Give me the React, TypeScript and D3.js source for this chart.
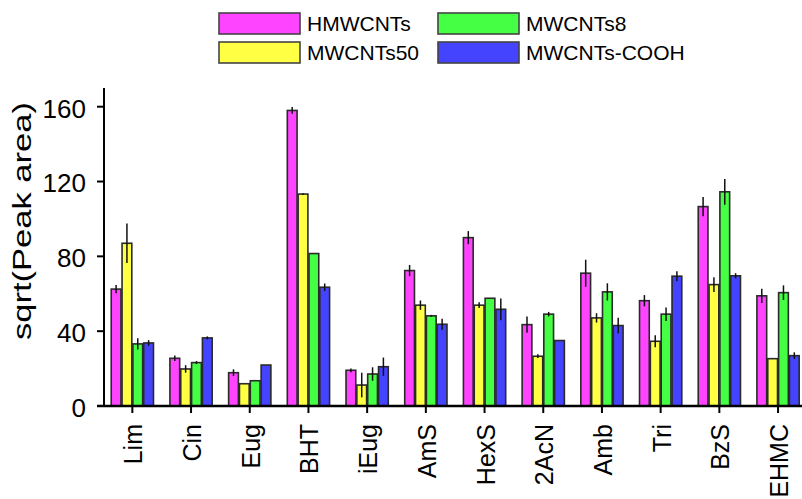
import React from "react";
import * as d3 from "d3";

const categories = ["Lim", "Cin", "Eug", "BHT", "iEug", "AmS", "HexS", "2AcN", "Amb", "Tri", "BzS", "EHMC"];
const seriesNames = ["HMWCNTs", "MWCNTs50", "MWCNTs8", "MWCNTs-COOH"];
const seriesColors = ["#ff44ff", "#ffff44", "#44ff44", "#4444ff"];

const hmwcnts = [62.5, 25.5, 17.8, 158, 19.1, 72.4, 90, 43.5, 71, 56.3, 106.6, 58.9];
const hmwcntsErr = [2.2, 1.5, 1.8, 1.8, 1.0, 3.0, 3.5, 4.3, 7.2, 3.0, 5.1, 3.8];
const mwcnts50 = [87, 19.8, 11.9, 113.3, 11.2, 53.9, 53.9, 26.6, 47.1, 34.6, 64.9, 25.3];
const mwcnts50Err = [10.5, 2.0, 0, 0.5, 6.6, 2.5, 1.5, 1.0, 2.5, 3.2, 3.9, 0];
const mwcnts8 = [33.2, 23.2, 13.5, 81.5, 17.1, 48.2, 57.6, 49.1, 61, 49.1, 114.5, 60.6];
const mwcnts8Err = [3.0, 0.8, 0, 0, 3.6, 0.5, 0, 1.2, 4.6, 3.6, 6.9, 3.9];
const cooh = [33.7, 36.4, 21.9, 63.5, 21.0, 43.7, 51.7, 35, 43, 69.4, 69.6, 26.9];
const coohErr = [1.5, 0.8, 0, 2.0, 4.9, 3.0, 5.8, 0, 4.2, 2.7, 1.4, 1.8];

const yTicks = [0, 40, 80, 120, 160];

const values = [hmwcnts, mwcnts50, mwcnts8, cooh];
const errors = [hmwcntsErr, mwcnts50Err, mwcnts8Err, coohErr];

const FONT = "'Liberation Sans', Arial, Helvetica, sans-serif";

export default function App() {
  const W = 802;
  const H = 499;
  const axisX = 104;
  const axisY = 406;

  const y = d3.scaleLinear().domain([0, 170]).range([axisY, 88]);
  const x = d3
    .scaleBand<string>()
    .domain(categories)
    .range([103, 103 + 12 * 58.7])
    .paddingInner(0.28)
    .paddingOuter(0.14);
  const xi = d3
    .scaleBand<string>()
    .domain(seriesNames)
    .range([0, x.bandwidth()])
    .paddingInner(0.1);

  const legendItems = [
    { name: seriesNames[0], color: seriesColors[0], bx: 219, by: 13 },
    { name: seriesNames[2], color: seriesColors[2], bx: 438, by: 13 },
    { name: seriesNames[1], color: seriesColors[1], bx: 219, by: 42 },
    { name: seriesNames[3], color: seriesColors[3], bx: 438, by: 42 },
  ];

  return (
    <svg
      width={W}
      height={H}
      style={{ position: "absolute", left: 0, top: 0, background: "#fff" }}
      fontFamily={FONT}
    >
      <rect x={0} y={0} width={W} height={H} fill="#fff" />
      {/* legend */}
      {legendItems.map((it) => (
        <g key={it.name}>
          <rect x={it.bx} y={it.by} width={81} height={21} fill={it.color} stroke="#444" strokeWidth={1.6} />
          <text x={it.bx + 88} y={it.by + 18} fontSize={21} fill="#000">
            {it.name}
          </text>
        </g>
      ))}

      {/* bars */}
      {categories.map((c, ci) => (
        <g key={c} transform={`translate(${x(c)},0)`}>
          {seriesNames.map((s, si) => {
            const v = values[si][ci];
            const e = errors[si][ci];
            const bx = xi(s)!;
            const bw = xi.bandwidth();
            return (
              <g key={s}>
                <rect
                  x={bx}
                  y={y(v)}
                  width={bw}
                  height={axisY - y(v)}
                  fill={seriesColors[si]}
                  stroke="#2a2a2a"
                  strokeWidth={1.6}
                />
                {e > 0 && (
                  <line
                    x1={bx + bw / 2}
                    x2={bx + bw / 2}
                    y1={y(v - e)}
                    y2={y(v + e)}
                    stroke="#111"
                    strokeWidth={1.5}
                  />
                )}
              </g>
            );
          })}
        </g>
      ))}

      {/* y axis */}
      <line x1={axisX} x2={axisX} y1={88} y2={axisY} stroke="#000" strokeWidth={2} />
      {yTicks.map((t) => (
        <g key={t}>
          <line x1={axisX - 7} x2={axisX} y1={y(t)} y2={y(t)} stroke="#000" strokeWidth={2} />
          <text x={86} y={y(t)} dy="0.42em" textAnchor="end" fontSize={26} fill="#000">
            {t}
          </text>
        </g>
      ))}
      <text
        transform={`translate(31,221) rotate(-90)`}
        textAnchor="middle"
        fontSize={25}
        fill="#000"
        textLength={238}
        lengthAdjust="spacingAndGlyphs"
      >
        sqrt(Peak area)
      </text>

      {/* x axis */}
      <line x1={axisX - 7} x2={W} y1={axisY} y2={axisY} stroke="#000" strokeWidth={2.5} />
      {categories.map((c) => {
        const cx = x(c)! + x.bandwidth() / 2;
        return (
          <g key={c}>
            <line x1={cx} x2={cx} y1={axisY} y2={axisY + 7} stroke="#000" strokeWidth={2} />
            <text
              transform={`translate(${cx},424) rotate(-90)`}
              dy="0.4em"
              textAnchor="end"
              fontSize={25}
              fill="#000"
            >
              {c}
            </text>
          </g>
        );
      })}
    </svg>
  );
}
